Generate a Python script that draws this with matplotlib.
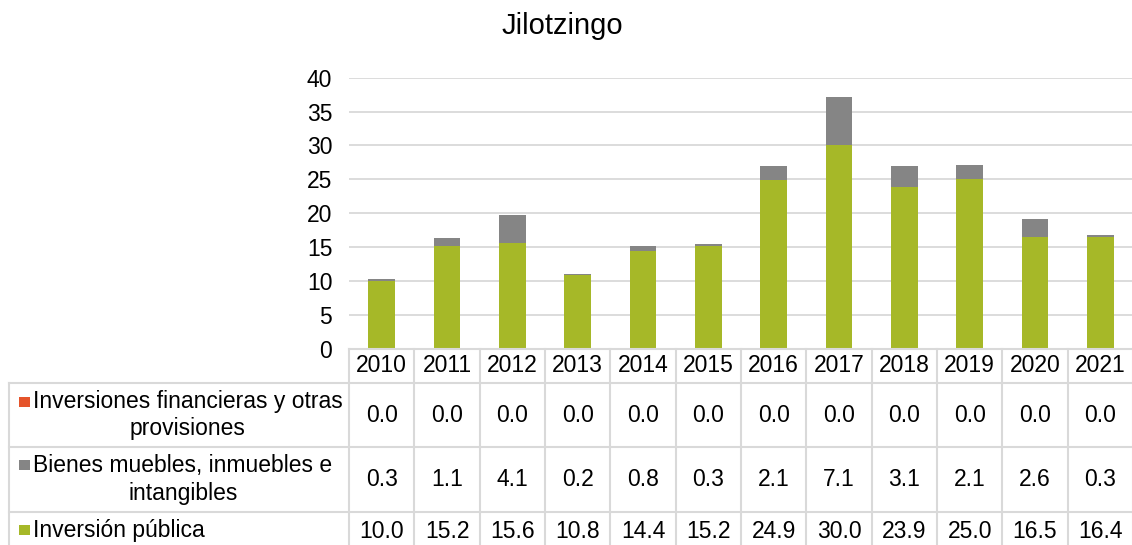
import matplotlib
matplotlib.use("Agg")
import matplotlib.pyplot as plt
from matplotlib import transforms
from matplotlib.patches import Rectangle
from matplotlib.lines import Line2D

W, H = 1132, 545

years = ["2010", "2011", "2012", "2013", "2014", "2015",
         "2016", "2017", "2018", "2019", "2020", "2021"]
inversion_publica = [10.0, 15.2, 15.6, 10.8, 14.4, 15.2, 24.9, 30.0, 23.9, 25.0, 16.5, 16.4]
bienes_muebles = [0.3, 1.1, 4.1, 0.2, 0.8, 0.3, 2.1, 7.1, 3.1, 2.1, 2.6, 0.3]
inversiones_fin = [0.0, 0.0, 0.0, 0.0, 0.0, 0.0, 0.0, 0.0, 0.0, 0.0, 0.0, 0.0]

series_labels = ["Inversiones financieras y otras\nprovisiones",
                 "Bienes muebles, inmuebles e\nintangibles",
                 "Inversión pública"]
series_values = [inversiones_fin, bienes_muebles, inversion_publica]
series_colors = ["#E5542B", "#858585", "#A6B828"]

GRID = "#D9D9D9"
FS = 16.5

plt.rcParams["font.family"] = ["Liberation Sans", "DejaVu Sans"]


def fx(px):
    return px / W


def fy(py):
    return 1 - py / H


fig = plt.figure(figsize=(W / 100, H / 100), dpi=100)
ax = fig.add_axes([fx(349), fy(348.5), fx(1133) - fx(349), fy(77.7) - fy(348.5)])

x = list(range(len(years)))
bw = 0.41
ax.bar(x, inversion_publica, bw, color=series_colors[2], zorder=3)
bottom2 = [a for a in inversion_publica]
ax.bar(x, bienes_muebles, bw, bottom=bottom2, color=series_colors[1], zorder=3)
bottom3 = [a + b for a, b in zip(inversion_publica, bienes_muebles)]
ax.bar(x, inversiones_fin, bw, bottom=bottom3, color=series_colors[0], zorder=3)

ax.set_xlim(-0.5, len(years) - 0.5)
ax.set_ylim(0, 40)
ax.set_yticks(range(0, 41, 5))
ax.tick_params(axis="y", length=0, pad=12, labelsize=FS)
ax.set_xticks([])
ax.yaxis.grid(True, color=GRID, lw=1.3, zorder=0)
for s in ax.spines.values():
    s.set_visible(False)

fig.text(fx(562), fy(26), "Jilotzingo", ha="center", va="center", fontsize=21)

# data table below the plot
tb = transforms.blended_transform_factory(ax.transData, fig.transFigure)
row_lines = [383, 447, 512]
row_centers = [415, 479.5, 531]

# horizontal lines
fig.add_artist(Line2D([fx(349), fx(1133)], [fy(348.5)] * 2, color=GRID, lw=1.5))
for ry in row_lines:
    fig.add_artist(Line2D([fx(9), fx(1133)], [fy(ry)] * 2, color=GRID, lw=1.5))
# vertical lines
for i in range(len(years) + 1):
    ax.add_artist(Line2D([i - 0.5, i - 0.5], [fy(348.5), fy(560)], transform=tb,
                         color=GRID, lw=1.5, clip_on=False))
fig.add_artist(Line2D([fx(9), fx(9)], [fy(383), fy(560)], color=GRID, lw=1.5))

# header
for i, yr in enumerate(years):
    ax.text(i, fy(365.5), yr, transform=tb, ha="center", va="center", fontsize=FS)

# rows
label_x = [188, 183, 33]
label_ha = ["center", "center", "left"]
square_y = [401.5, 465, 530]
for r, (lab, vals, col) in enumerate(zip(series_labels, series_values, series_colors)):
    fig.text(fx(label_x[r]), fy(row_centers[r]), lab, ha=label_ha[r], va="center",
             multialignment="center", fontsize=FS, linespacing=1.25)
    fig.add_artist(Rectangle((fx(18.5), fy(square_y[r] + 5)), fx(11), 10 / H,
                             transform=fig.transFigure, color=col, lw=0))
    for i, v in enumerate(vals):
        ax.text(i, fy(row_centers[r]), f"{v:.1f}", transform=tb, ha="center",
                va="center", fontsize=FS)

fig.savefig("out.png", dpi=100)
